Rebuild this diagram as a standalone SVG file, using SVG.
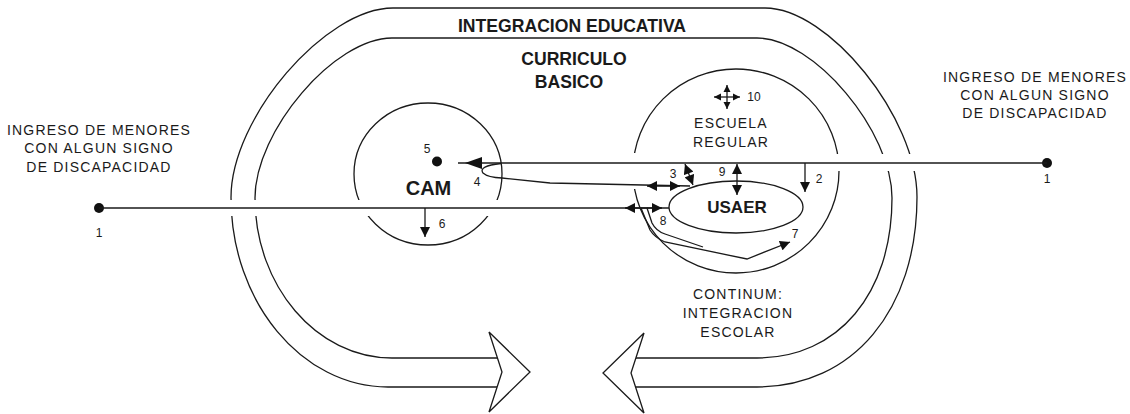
<svg xmlns="http://www.w3.org/2000/svg" width="1130" height="414" viewBox="0 0 1130 414">
<defs>
<style>
.ln{fill:none;stroke:#1a1a1a;stroke-width:1.3}
.hd{fill:#fff;stroke:#1a1a1a;stroke-width:1.3;stroke-linejoin:miter}
.hl{fill:none;stroke:#1a1a1a;stroke-width:1.6}
.t{font-family:"Liberation Sans",Arial,sans-serif;font-size:14px;letter-spacing:1.2px;text-anchor:middle;fill:#1a1a1a}
.b{font-family:"Liberation Sans",Arial,sans-serif;font-weight:bold;text-anchor:middle;fill:#1a1a1a}
.n{font-family:"Liberation Sans",Arial,sans-serif;font-size:12px;text-anchor:middle;fill:#1a1a1a}
.dot{fill:#111}
</style>
<marker id="ah" viewBox="0 0 10 10" refX="10" refY="5" markerWidth="11" markerHeight="10" markerUnits="userSpaceOnUse" orient="auto-start-reverse"><path d="M0,0 L10,5 L0,10 z" fill="#111"/></marker>
<marker id="ahS" viewBox="0 0 10 10" refX="10" refY="5" markerWidth="7" markerHeight="8" markerUnits="userSpaceOnUse" orient="auto-start-reverse"><path d="M0,0 L10,5 L0,10 z" fill="#111"/></marker>
<mask id="gaps" maskUnits="userSpaceOnUse" x="0" y="0" width="1130" height="414">
<rect x="0" y="0" width="1130" height="414" fill="#fff"/>
<rect x="220" y="200" width="45" height="16" fill="#000"/>
<rect x="348" y="200" width="28" height="16" fill="#000"/>
<rect x="482" y="200" width="28" height="16" fill="#000"/>
<rect x="624" y="153" width="16" height="36" fill="#000"/>
<rect x="828" y="154" width="16" height="17" fill="#000"/>
<rect x="875" y="154" width="50" height="17" fill="#000"/>
</mask>
</defs>
<rect x="0" y="0" width="1130" height="414" fill="#fff"/>

<g id="integracion-educativa">
<path class="ln" d="M393,8 L765,8"/>
<path class="ln" mask="url(#gaps)" d="M393,8 C325,8 231,118 231,197.5 C231,301.7 301.7,387 388,387"/>
<path class="ln" mask="url(#gaps)" d="M765,8 C828.8,8 917,117.6 917,197 C917,310 853,387 757,387"/>
<path class="ln" d="M388,387 L497.2,387 M635.6,387 L757,387"/>
<text class="b" x="572" y="32" font-size="17.6">INTEGRACION EDUCATIVA</text>
</g>

<g id="curriculo-basico">
<path class="ln" d="M392,38 L757,38"/>
<path class="ln" mask="url(#gaps)" d="M392,38 C334.5,38 255,130.8 255,198 C255,286 316.6,358 392,358"/>
<path class="ln" mask="url(#gaps)" d="M757,38 C813.7,38 892,130.8 892,198 C892,294 838,358 757,358"/>
<path class="ln" d="M392,358 L497.5,358 M635.9,358 L757,358"/>
<text class="b" x="574" y="65" font-size="17.6">CURRICULO</text>
<text class="b" x="569" y="88" font-size="17.6">BASICO</text>
</g>

<g id="flecha-derecha">
<path class="hd" d="M489,332 L530,372 L489,412 L502,372 Z"/>
</g>
<g id="flecha-izquierda">
<path class="hd" d="M644,333 L603,373 L644,413 L631,373 Z"/>
</g>

<g id="cam">
<ellipse class="ln" mask="url(#gaps)" cx="428" cy="174" rx="74" ry="71"/>
<circle class="dot" cx="437" cy="161.5" r="5"/>
<text class="b" x="428.5" y="195" font-size="20">CAM</text>
</g>

<g id="escuela-regular">
<ellipse class="ln" mask="url(#gaps)" cx="736" cy="171" rx="103" ry="102"/>
<text class="t" x="731" y="128">ESCUELA</text>
<text class="t" x="731" y="147">REGULAR</text>
</g>

<g id="usaer">
<ellipse class="ln" cx="736" cy="207" rx="67" ry="26"/>
<text class="b" x="737" y="213" font-size="17">USAER</text>
</g>

<g id="ingreso-izquierda">
<circle class="dot" cx="99" cy="208" r="5"/>
<text class="t" x="99" y="135">INGRESO DE MENORES</text>
<text class="t" x="99" y="153">CON ALGUN SIGNO</text>
<text class="t" x="99" y="172">DE DISCAPACIDAD</text>
<text class="n" x="99" y="237">1</text>
</g>

<g id="ingreso-derecha">
<circle class="dot" cx="1047" cy="163" r="5"/>
<text class="t" x="1035" y="81.5">INGRESO DE MENORES</text>
<text class="t" x="1035" y="99.5">CON ALGUN SIGNO</text>
<text class="t" x="1035" y="118">DE DISCAPACIDAD</text>
<text class="n" x="1047" y="183">1</text>
</g>

<g id="continum">
<text class="t" x="738" y="299">CONTINUM:</text>
<text class="t" x="738" y="318">INTEGRACION</text>
<text class="t" x="738" y="337">ESCOLAR</text>
</g>

<g id="connectors">
<line class="hl" x1="99" y1="208" x2="669" y2="208"/>
<path class="hl" d="M625,208 L662,208" marker-start="url(#ah)" marker-end="url(#ah)"/>
<line class="hl" x1="1047" y1="163" x2="458" y2="163"/>
<path d="M465,163 L482,157 L482,169 Z" fill="#111"/>
<path class="ln" d="M501,163.5 Q478,166 483,173 Q488,177.5 502,178 L550,183 L690,186"/>
<path class="ln" d="M647,186 L680,186" marker-start="url(#ah)" marker-end="url(#ah)"/>
<path class="ln" d="M685,164 L693,185" marker-start="url(#ah)" marker-end="url(#ah)"/>
<path class="ln" d="M737,164 L737,195" marker-start="url(#ah)" marker-end="url(#ah)"/>
<path class="ln" d="M805,163 L805,192" marker-end="url(#ah)"/>
<path class="ln" d="M425,208 L425,237" marker-end="url(#ah)"/>
<path class="ln" d="M641,208 L650,230 Q655,238 665,242 L747,259 L790,242" marker-end="url(#ah)"/>
<path class="ln" d="M647,208 L652,223 Q656,231 665,234 L703,247"/>
<path class="ln" d="M727,97 L714,97" marker-end="url(#ahS)"/>
<path class="ln" d="M727,97 L740,97" marker-end="url(#ahS)"/>
<path class="ln" d="M727,97 L727,85" marker-end="url(#ahS)"/>
<path class="ln" d="M727,97 L727,109" marker-end="url(#ahS)"/>
<text class="n" x="427" y="153">5</text>
<text class="n" x="477" y="186">4</text>
<text class="n" x="442" y="228">6</text>
<text class="n" x="673" y="178">3</text>
<text class="n" x="722" y="176">9</text>
<text class="n" x="663" y="225">8</text>
<text class="n" x="795" y="238">7</text>
<text class="n" x="819" y="183" font-size="9">2</text>
<text class="n" x="754" y="101">10</text>
</g>
</svg>
